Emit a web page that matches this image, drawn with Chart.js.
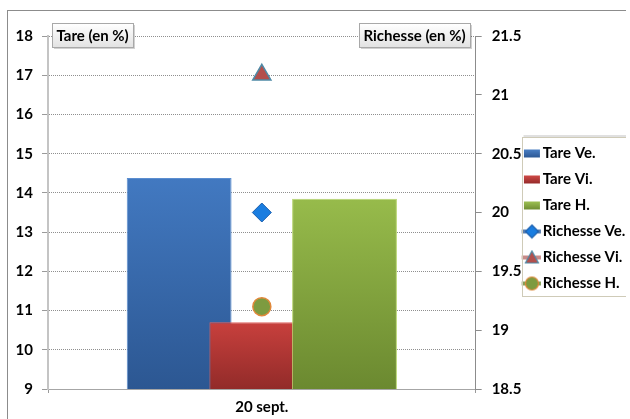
<!DOCTYPE html>
<html><head><meta charset="utf-8">
<script src="https://cdn.jsdelivr.net/npm/chart.js@4/dist/chart.umd.min.js"></script>
<style>
html,body{margin:0;padding:0;overflow:hidden;background:#fff;width:630px;height:419px}
#wrap{position:absolute;left:0;top:0;width:632px;height:419px}
</style>
</head><body><div id="wrap"><canvas id="c"></canvas></div>
<script>
const categories = ['20 sept.'];
const tareVe = [14.38];
const tareVi = [10.7];
const tareH = [13.85];
const richesseVe = [20.0];
const richesseVi = [21.17];
const richesseH = [19.2];
const seriesNames = ['Tare Ve.', 'Tare Vi.', 'Tare H.', 'Richesse Ve.', 'Richesse Vi.', 'Richesse H.'];
const leftTicks = [9, 10, 11, 12, 13, 14, 15, 16, 17, 18];
const rightTicks = [18.5, 19, 19.5, 20, 20.5, 21, 21.5];
const leftTitle = 'Tare (en %)';
const rightTitle = 'Richesse (en %)';

const FONT = 'Lato';
const FS = 15;

// canvas width: the longest legend label runs just past the visible edge, as in the reference
(function () {
  const m = document.createElement('canvas').getContext('2d');
  m.font = 'bold ' + FS + 'px ' + FONT;
  let w = 0;
  seriesNames.forEach(s => { w = Math.max(w, m.measureText(s).width); });
  document.getElementById('wrap').style.width = Math.ceil(543 + w) + 'px';
})();

function barGrad(top, bottom) {
  return (context) => {
    const chart = context.chart;
    const a = chart.chartArea;
    if (!a || context.raw === undefined) return top;
    const y0 = chart.scales.y.getPixelForValue(context.raw);
    const g = chart.ctx.createLinearGradient(0, y0, 0, a.bottom);
    g.addColorStop(0, top);
    g.addColorStop(1, bottom);
    return g;
  };
}

function makeIcon(kind, c1, c2, c3) {
  const cv = document.createElement('canvas');
  cv.width = 28; cv.height = 16;
  const x = cv.getContext('2d');
  if (kind === 'bar') {
    const g = x.createLinearGradient(0, 4, 0, 12);
    g.addColorStop(0, c1); g.addColorStop(1, c2);
    x.fillStyle = g; x.fillRect(4, 4, 16, 8);
  } else {
    x.strokeStyle = c3; x.lineWidth = 4;
    x.beginPath(); x.moveTo(0, 8); x.lineTo(21, 8); x.stroke();
    x.fillStyle = c1; x.strokeStyle = c2; x.lineWidth = 1.2;
    x.beginPath();
    if (kind === 'diamond') { x.moveTo(12, 1.5); x.lineTo(18.5, 8); x.lineTo(12, 14.5); x.lineTo(5.5, 8); x.closePath(); }
    else if (kind === 'tri') { x.moveTo(12, 1.5); x.lineTo(18.5, 13.5); x.lineTo(5.5, 13.5); x.closePath(); }
    else { x.arc(12, 8, 6.5, 0, Math.PI * 2); }
    x.fill(); x.stroke();
  }
  return cv;
}
const legendIcons = [
  makeIcon('bar', '#4a7fc4', '#2c5894'),
  makeIcon('bar', '#d04a47', '#952b2a'),
  makeIcon('bar', '#9dc152', '#6f8d32'),
  makeIcon('diamond', '#1a7de0', '#1b5fae', '#5a7fb0'),
  makeIcon('tri', '#b3504d', '#4f8aa6', '#c98a88'),
  makeIcon('circle', '#7d9b40', '#e0883a', '#86a057')
];

const drawOrder = {
  id: 'drawOrder',
  beforeDatasetsDraw(chart) {
    const metas = chart.getSortedVisibleDatasetMetas();
    for (const m of metas) {
      if (typeof chart._drawDataset === 'function') chart._drawDataset(m);
      else m.controller.draw();
    }
    return false;
  }
};

function labelBox(ctx, text, x, yc, alignRight) {
  ctx.save();
  ctx.font = 'bold ' + FS + 'px ' + FONT;
  const w = Math.round(ctx.measureText(text).width + 9);
  const h = 24;
  const left = Math.round(alignRight ? x - w : x) + 0.5;
  const top = Math.round(yc - h / 2) + 0.5;
  ctx.fillStyle = 'rgba(0,0,0,0.18)';
  ctx.fillRect(left + 1.5, top + 1.5, w, h);
  const g = ctx.createLinearGradient(0, top, 0, top + h);
  g.addColorStop(0, '#ffffff'); g.addColorStop(1, '#e2e2e2');
  ctx.fillStyle = g;
  ctx.fillRect(left, top, w, h);
  ctx.strokeStyle = '#a8a8a8'; ctx.lineWidth = 1;
  ctx.strokeRect(left, top, w, h);
  ctx.fillStyle = '#000';
  ctx.textBaseline = 'middle';
  ctx.fillText(text, left + 4, top + h / 2 + 0.5);
  ctx.restore();
}

const decor = {
  id: 'decor',
  beforeDraw(chart) {
    const ctx = chart.ctx;
    ctx.save();
    ctx.strokeStyle = '#8c8c8c'; ctx.lineWidth = 1;
    ctx.strokeRect(7.5, 10.5, chart.width + 20, chart.height + 20);
    ctx.restore();
  },
  afterDraw(chart) {
    const ctx = chart.ctx;
    const a = chart.chartArea;
    labelBox(ctx, leftTitle, a.left + 4, a.top - 1, false);
    labelBox(ctx, rightTitle, a.right - 6, a.top - 1, true);
    const hb = chart.legend && chart.legend.legendHitBoxes;
    if (hb && hb.length) {
      const first = hb[0], last = hb[hb.length - 1];
      const l = Math.round(first.left - 11) + 0.5;
      const t = Math.round(first.top - 9) + 0.5;
      const b = Math.round(last.top + last.height + 5) + 0.5;
      ctx.save();
      ctx.strokeStyle = 'rgba(0,0,0,0.12)'; ctx.lineWidth = 2;
      ctx.beginPath(); ctx.moveTo(l + 1, t - 1.5); ctx.lineTo(chart.width + 10, t - 1.5); ctx.stroke();
      ctx.strokeStyle = '#cfcbb8'; ctx.lineWidth = 1;
      ctx.strokeRect(l, t, chart.width + 20, b - t);
      ctx.restore();
    }
  }
};

Chart.defaults.font.family = FONT;
Chart.defaults.font.weight = 'bold';
Chart.defaults.font.size = FS;
Chart.defaults.color = '#000';

const tickFont = { size: FS, weight: 'bold', family: FONT };

new Chart(document.getElementById('c'), {
  type: 'bar',
  data: {
    labels: categories,
    datasets: [
      { label: seriesNames[0], data: tareVe, yAxisID: 'y', backgroundColor: barGrad('#4279c1', '#2c5792'), borderColor: '#5b8ed0', borderWidth: 1 },
      { label: seriesNames[1], data: tareVi, yAxisID: 'y', backgroundColor: barGrad('#c8403d', '#922b29'), borderColor: '#e06461', borderWidth: 1 },
      { label: seriesNames[2], data: tareH, yAxisID: 'y', backgroundColor: barGrad('#97bb4b', '#6b8930'), borderColor: '#b7d56f', borderWidth: 1 },
      { type: 'line', label: seriesNames[3], data: richesseVe, yAxisID: 'y1', showLine: false, pointStyle: 'rectRot', pointRadius: 9.5, pointBackgroundColor: '#1a7de0', pointBorderColor: '#1b5fae', pointBorderWidth: 1, borderColor: '#4f81bd', backgroundColor: '#1a7de0' },
      { type: 'line', label: seriesNames[4], data: richesseVi, yAxisID: 'y1', showLine: false, pointStyle: 'triangle', pointRadius: 10.5, pointBackgroundColor: '#b3504d', pointBorderColor: '#4f8aa6', pointBorderWidth: 1.5, borderColor: '#c0504d', backgroundColor: '#b3504d' },
      { type: 'line', label: seriesNames[5], data: richesseH, yAxisID: 'y1', showLine: false, pointStyle: 'circle', pointRadius: 9, pointBackgroundColor: '#7d9b40', pointBorderColor: '#e0883a', pointBorderWidth: 1.5, borderColor: '#9bbb59', backgroundColor: '#7d9b40' }
    ]
  },
  options: {
    responsive: true,
    maintainAspectRatio: false,
    animation: false,
    categoryPercentage: 0.58,
    barPercentage: 1.268,
    layout: { padding: { left: 0, top: 36, right: 0, bottom: 0 } },
    plugins: {
      tooltip: { enabled: false },
      legend: {
        position: 'right',
        align: 'start',
        title: { display: true, text: '', padding: { top: 81, bottom: 0 } },
        labels: {
          usePointStyle: true,
          pointStyleWidth: 2.5,
          padding: 11,
          color: '#000',
          font: tickFont,
          generateLabels(chart) {
            const items = Chart.defaults.plugins.legend.labels.generateLabels(chart);
            items.forEach(it => { it.pointStyle = legendIcons[it.datasetIndex]; it.fontColor = '#000'; });
            return items;
          }
        }
      }
    },
    scales: {
      x: {
        type: 'category',
        offset: true,
        afterFit: s => { s.height = 30; },
        grid: { display: true, drawOnChartArea: false, drawTicks: true, tickLength: 4, offset: true, color: '#9a9a9a', tickColor: '#9a9a9a' },
        border: { display: true, color: '#a6a6a6', width: 1 },
        ticks: { padding: 5, color: '#000', font: tickFont }
      },
      y: {
        position: 'left',
        min: 9, max: 18,
        afterBuildTicks: s => { s.ticks = leftTicks.map(v => ({ value: v })); },
        afterFit: s => { s.width = 48; },
        ticks: { padding: 9, color: '#000', font: tickFont, callback: v => String(v) },
        grid: { color: '#8f8f8f', tickColor: '#9a9a9a', tickLength: 6, drawOnChartArea: true },
        border: { display: true, color: '#c4c4c4', width: 2, dash: [1, 1] }
      },
      y1: {
        position: 'right',
        min: 18.5, max: 21.5,
        afterBuildTicks: s => { s.ticks = rightTicks.map(v => ({ value: v })); },
        afterFit: s => { s.width = 46; },
        ticks: { padding: 10, color: '#000', font: tickFont, callback: v => String(v) },
        grid: { drawOnChartArea: false, tickColor: '#8c8c8c', tickLength: 6 },
        border: { display: true, color: '#8c8c8c', width: 1 }
      }
    }
  },
  plugins: [drawOrder, decor]
});
</script>
</body></html>
